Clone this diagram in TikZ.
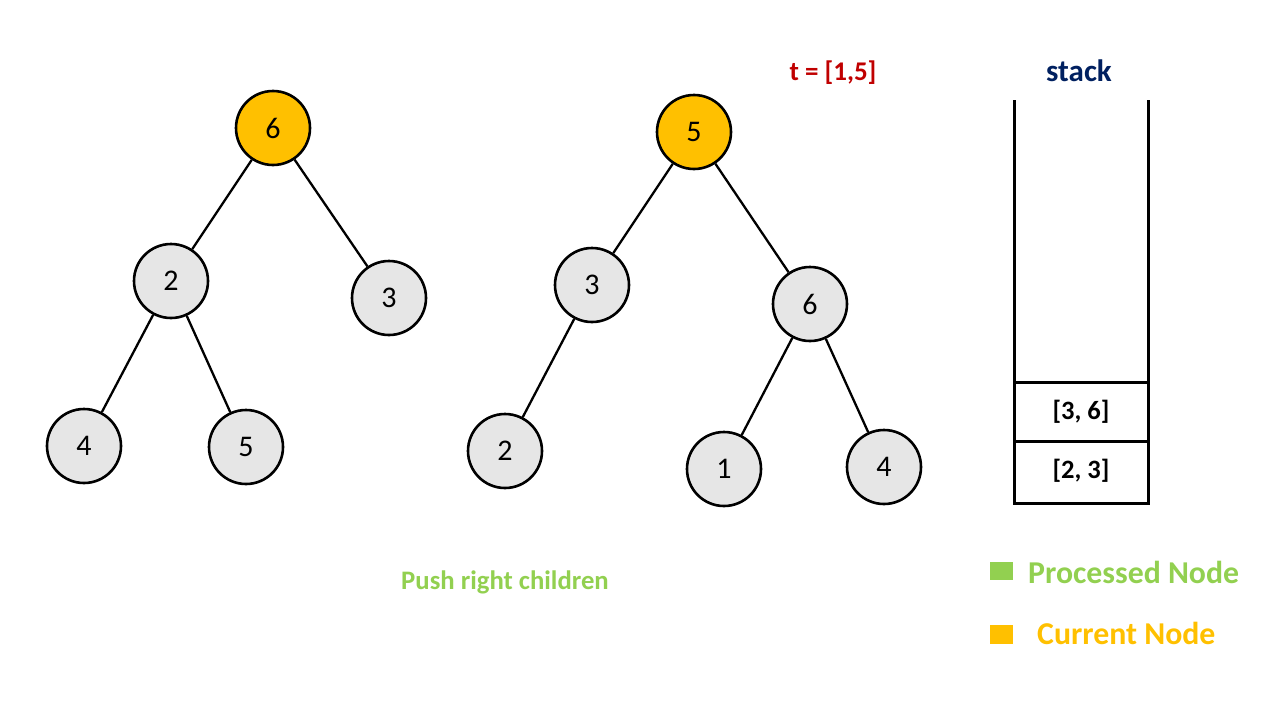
\documentclass[tikz,border=0pt]{standalone}
\usepackage{fontspec}
\setmainfont{Carlito}[Numbers=Lining]
\definecolor{nodegray}{HTML}{E6E6E6}
\definecolor{curorange}{HTML}{FFC000}
\definecolor{procgreen}{HTML}{92D050}
\definecolor{tred}{HTML}{C00000}
\definecolor{stackblue}{HTML}{002060}
\tikzset{
  treenode/.style={circle,draw=black,line width=2.6pt,fill=nodegray,minimum size=74pt,inner sep=0pt,
    font=\fontsize{30}{34}\selectfont},
  curnode/.style={treenode,fill=curorange},
  link/.style={line width=2.3pt,black},
  wall/.style={line width=3pt,black},
  slot/.style={font=\bfseries\fontsize{26.5}{30}\selectfont}
}
\begin{document}
\begin{tikzpicture}[x=1pt,y=-1pt]
\useasboundingbox (0,0) rectangle (1280,720);

% first tree
\node[curnode]  (a6) at (273,128) {6};
\node[treenode] (a2) at (171,281) {2};
\node[treenode] (a3) at (389,298) {3};
\node[treenode] (a4) at (84,446) {4};
\node[treenode] (a5) at (246,447) {5};
\draw[link] (a6) -- (a2);
\draw[link] (a6) -- (a3);
\draw[link] (a2) -- (a4);
\draw[link] (a2) -- (a5);

% second tree
\node[curnode]  (b5) at (694,132) {5};
\node[treenode] (b3) at (592,285) {3};
\node[treenode] (b6) at (810,304) {6};
\node[treenode] (b2) at (505,451) {2};
\node[treenode] (b1) at (724,469) {1};
\node[treenode] (b4) at (884,467) {4};
\draw[link] (b5) -- (b3);
\draw[link] (b5) -- (b6);
\draw[link] (b3) -- (b2);
\draw[link] (b6) -- (b1);
\draw[link] (b6) -- (b4);

% labels
\node[font=\bfseries\fontsize{27}{31}\selectfont,text=tred] (tval) at (833,73) {t = [1,5]};
\node[font=\bfseries\fontsize{31}{35}\selectfont,text=stackblue] (stk) at (1079,71) {stack};
\node[font=\bfseries\fontsize{26.7}{31}\selectfont,text=procgreen] (caption) at (505,582) {Push right children};

% stack container
\draw[wall] (1014,100) -- (1014,503) -- (1148,503) -- (1148,100);
\draw[wall] (1014,382) -- (1150,382);
\draw[wall] (1014,441) -- (1148,441);
\node[slot] (s1) at (1081,412) {[3, 6]};
\node[slot] (s2) at (1081,471) {[2, 3]};

% legend
\fill[procgreen] (990,562) rectangle (1013,580);
\node[anchor=west,font=\bfseries\fontsize{31.8}{36}\selectfont,text=procgreen,inner sep=0pt] (lp) at (1028,572) {Processed Node};
\fill[curorange] (990,625) rectangle (1013,644);
\node[anchor=west,font=\bfseries\fontsize{31.8}{36}\selectfont,text=curorange,inner sep=0pt] (lc) at (1037,633) {Current Node};
\end{tikzpicture}
\end{document}
